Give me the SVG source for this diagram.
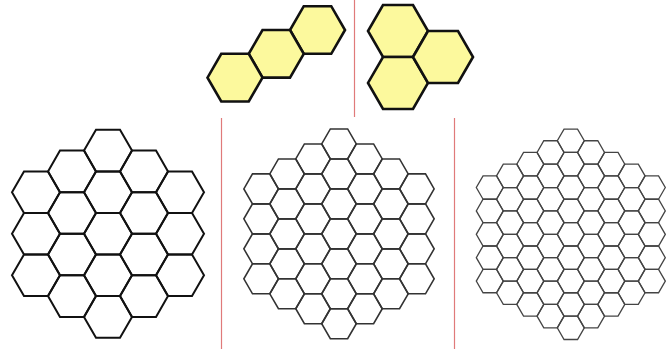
<svg xmlns="http://www.w3.org/2000/svg" width="667" height="349" viewBox="0 0 667 349">
<style>
.sep{stroke:#e07a7a;stroke-width:1.2;fill:none}
.yel{fill:#fcf99d;stroke:#111;stroke-width:2.6;stroke-linejoin:miter}
.g1{fill:none;stroke:#111;stroke-width:2}
.g2{fill:none;stroke:#333;stroke-width:1.6}
.g3{fill:none;stroke:#444;stroke-width:1.3}
</style>
<defs>
<polygon id="hy1" points="27.5,0 13.75,23.82 -13.75,23.82 -27.5,0 -13.75,-23.82 13.75,-23.82"/>
<polygon id="hy2" points="30,0 15,25.98 -15,25.98 -30,0 -15,-25.98 15,-25.98"/>
<polygon id="ha" points="24,0 12,20.785 -12,20.785 -24,0 -12,-20.785 12,-20.785"/>
<polygon id="hb" points="17.3,0 8.65,14.98 -8.65,14.98 -17.3,0 -8.65,-14.98 8.65,-14.98"/>
<polygon id="hc" points="13.5,0 6.75,11.69 -6.75,11.69 -13.5,0 -6.75,-11.69 6.75,-11.69"/>
</defs>
<rect width="667" height="349" fill="#fff"/>
<g id="separators">
<line class="sep" x1="354.5" y1="0" x2="354.5" y2="117"/>
<line class="sep" x1="221.5" y1="118" x2="221.5" y2="349"/>
<line class="sep" x1="454.5" y1="118" x2="454.5" y2="349"/>
</g>
<g id="trihex-chain" class="yel">
<use href="#hy1" x="317.5" y="30"/>
<use href="#hy1" x="276.25" y="53.82"/>
<use href="#hy1" x="235" y="77.64"/>
</g>
<g id="trihex-triangle" class="yel">
<use href="#hy2" x="398" y="31"/>
<use href="#hy2" x="398" y="82.96"/>
<use href="#hy2" x="443" y="56.98"/>
</g>
<g id="grid-side3" class="g1">
<use href="#ha" x="36" y="192.18"/><use href="#ha" x="36" y="233.75"/><use href="#ha" x="36" y="275.32"/>
<use href="#ha" x="72" y="171.4"/><use href="#ha" x="72" y="212.97"/><use href="#ha" x="72" y="254.54"/><use href="#ha" x="72" y="296.11"/>
<use href="#ha" x="108" y="150.61"/><use href="#ha" x="108" y="192.18"/><use href="#ha" x="108" y="233.75"/><use href="#ha" x="108" y="275.32"/><use href="#ha" x="108" y="316.89"/>
<use href="#ha" x="144" y="171.4"/><use href="#ha" x="144" y="212.97"/><use href="#ha" x="144" y="254.54"/><use href="#ha" x="144" y="296.11"/>
<use href="#ha" x="180" y="192.18"/><use href="#ha" x="180" y="233.75"/><use href="#ha" x="180" y="275.32"/>
</g>
<g id="grid-side4" class="g2">
<use href="#hb" x="261.15" y="188.9"/><use href="#hb" x="261.15" y="218.87"/><use href="#hb" x="261.15" y="248.83"/><use href="#hb" x="261.15" y="278.8"/>
<use href="#hb" x="287.1" y="173.92"/><use href="#hb" x="287.1" y="203.89"/><use href="#hb" x="287.1" y="233.85"/><use href="#hb" x="287.1" y="263.82"/><use href="#hb" x="287.1" y="293.78"/>
<use href="#hb" x="313.05" y="158.94"/><use href="#hb" x="313.05" y="188.9"/><use href="#hb" x="313.05" y="218.87"/><use href="#hb" x="313.05" y="248.83"/><use href="#hb" x="313.05" y="278.8"/><use href="#hb" x="313.05" y="308.76"/>
<use href="#hb" x="339" y="143.95"/><use href="#hb" x="339" y="173.92"/><use href="#hb" x="339" y="203.89"/><use href="#hb" x="339" y="233.85"/><use href="#hb" x="339" y="263.82"/><use href="#hb" x="339" y="293.78"/><use href="#hb" x="339" y="323.75"/>
<use href="#hb" x="364.95" y="158.94"/><use href="#hb" x="364.95" y="188.9"/><use href="#hb" x="364.95" y="218.87"/><use href="#hb" x="364.95" y="248.83"/><use href="#hb" x="364.95" y="278.8"/><use href="#hb" x="364.95" y="308.76"/>
<use href="#hb" x="390.9" y="173.92"/><use href="#hb" x="390.9" y="203.89"/><use href="#hb" x="390.9" y="233.85"/><use href="#hb" x="390.9" y="263.82"/><use href="#hb" x="390.9" y="293.78"/>
<use href="#hb" x="416.85" y="188.9"/><use href="#hb" x="416.85" y="218.87"/><use href="#hb" x="416.85" y="248.83"/><use href="#hb" x="416.85" y="278.8"/>
</g>
<g id="grid-side5" class="g3">
<use href="#hc" x="489.8" y="187.53"/><use href="#hc" x="489.8" y="210.92"/><use href="#hc" x="489.8" y="234.3"/><use href="#hc" x="489.8" y="257.68"/><use href="#hc" x="489.8" y="281.07"/>
<use href="#hc" x="510.05" y="175.84"/><use href="#hc" x="510.05" y="199.23"/><use href="#hc" x="510.05" y="222.61"/><use href="#hc" x="510.05" y="245.99"/><use href="#hc" x="510.05" y="269.37"/><use href="#hc" x="510.05" y="292.76"/>
<use href="#hc" x="530.3" y="164.15"/><use href="#hc" x="530.3" y="187.53"/><use href="#hc" x="530.3" y="210.92"/><use href="#hc" x="530.3" y="234.3"/><use href="#hc" x="530.3" y="257.68"/><use href="#hc" x="530.3" y="281.07"/><use href="#hc" x="530.3" y="304.45"/>
<use href="#hc" x="550.55" y="152.46"/><use href="#hc" x="550.55" y="175.84"/><use href="#hc" x="550.55" y="199.23"/><use href="#hc" x="550.55" y="222.61"/><use href="#hc" x="550.55" y="245.99"/><use href="#hc" x="550.55" y="269.37"/><use href="#hc" x="550.55" y="292.76"/><use href="#hc" x="550.55" y="316.14"/>
<use href="#hc" x="570.8" y="140.77"/><use href="#hc" x="570.8" y="164.15"/><use href="#hc" x="570.8" y="187.53"/><use href="#hc" x="570.8" y="210.92"/><use href="#hc" x="570.8" y="234.3"/><use href="#hc" x="570.8" y="257.68"/><use href="#hc" x="570.8" y="281.07"/><use href="#hc" x="570.8" y="304.45"/><use href="#hc" x="570.8" y="327.83"/>
<use href="#hc" x="591.05" y="152.46"/><use href="#hc" x="591.05" y="175.84"/><use href="#hc" x="591.05" y="199.23"/><use href="#hc" x="591.05" y="222.61"/><use href="#hc" x="591.05" y="245.99"/><use href="#hc" x="591.05" y="269.37"/><use href="#hc" x="591.05" y="292.76"/><use href="#hc" x="591.05" y="316.14"/>
<use href="#hc" x="611.3" y="164.15"/><use href="#hc" x="611.3" y="187.53"/><use href="#hc" x="611.3" y="210.92"/><use href="#hc" x="611.3" y="234.3"/><use href="#hc" x="611.3" y="257.68"/><use href="#hc" x="611.3" y="281.07"/><use href="#hc" x="611.3" y="304.45"/>
<use href="#hc" x="631.55" y="175.84"/><use href="#hc" x="631.55" y="199.23"/><use href="#hc" x="631.55" y="222.61"/><use href="#hc" x="631.55" y="245.99"/><use href="#hc" x="631.55" y="269.37"/><use href="#hc" x="631.55" y="292.76"/>
<use href="#hc" x="651.8" y="187.53"/><use href="#hc" x="651.8" y="210.92"/><use href="#hc" x="651.8" y="234.3"/><use href="#hc" x="651.8" y="257.68"/><use href="#hc" x="651.8" y="281.07"/>
</g>
</svg>
